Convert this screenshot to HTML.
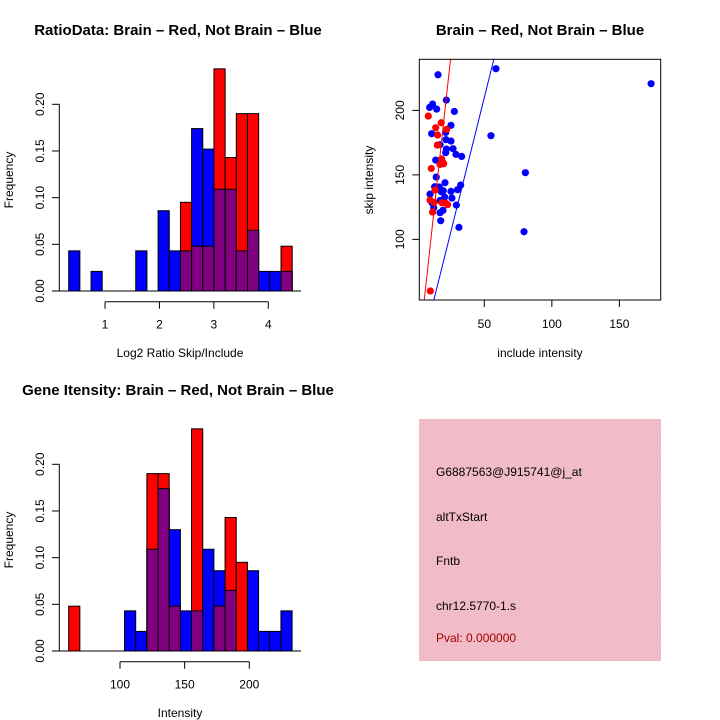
<!DOCTYPE html>
<html><head><meta charset="utf-8"><style>
body{margin:0;background:#fff}
svg{display:block;font-family:"Liberation Sans",sans-serif}
</style></head><body>
<svg id="c" width="720" height="720" xmlns="http://www.w3.org/2000/svg">
<defs><pattern id="hatch" width="3" height="3" patternUnits="userSpaceOnUse"><rect width="3" height="3" fill="#f2bcc8"/><rect width="1" height="1" fill="#e8b0c0"/></pattern></defs>
<g id="g1"></g>
<g id="g2"></g>
<g id="g3"></g>
<g>
<rect x="419" y="419" width="242" height="242" fill="url(#hatch)"/>
<text x="436" y="476" font-size="12">G6887563@J915741@j_at</text>
<text x="436" y="521" font-size="12">altTxStart</text>
<text x="436" y="565" font-size="12">Fntb</text>
<text x="436" y="610" font-size="12">chr12.5770-1.s</text>
<text x="436" y="642" font-size="12" fill="#a00000">Pval: 0.000000</text>
</g>
</svg>
<script>
// Ratio histogram data (20 bins)
const ratioBlue=[.043,0,.021,0,0,0,.043,0,.086,.043,.043,.174,.152,.109,.109,.043,.065,.021,.021,.021];
const ratioRed=[0,0,0,0,0,0,0,0,0,0,.095,.048,.048,.238,.143,.190,.190,0,0,.048];
const ratioStart=0.333, ratioWidth=0.2053;
const ratioTicks=[1,2,3,4];
// Intensity histogram data
const intBlue=[0,0,0,0,0,.043,.021,.109,.174,.130,.043,.043,.109,.086,.065,0,.086,.021,.021,.043];
const intRed=[.048,0,0,0,0,0,0,.190,.190,.048,0,.238,0,.048,.143,.095,0,0,0,0];
const intStart=60.3, intWidth=8.64;
const intTicks=[100,150,200];
const freqTicks=[0,0.05,0.10,0.15,0.20];
const freqLabels=["0.00","0.05","0.10","0.15","0.20"];
// Scatter data
const blueX=[15.7,9.5,11.7,14.7,21.9,27.8,11.0,21.4,25.3,21.6,25.3,17.2,21.9,26.8,21.4,29.0,33.2,14.0,19.1,14.4,20.9,13.2,16.7,18.1,19.6,25.3,9.8,20.6,26.0,17.2,11.2,19.1,12.5,29.3,30.2,32.5,17.2,19.4,17.7,31.2,58.6,54.9,80.4,79.4,173.5,18.9];
const blueY=[227.6,202.3,204.9,201.0,208.0,199.2,181.9,182.9,188.4,177.3,176.2,173.4,170.0,170.3,167.2,165.9,164.3,161.5,159.9,148.3,143.9,140.8,140.6,137.0,137.7,137.2,135.1,132.8,132.0,130.2,128.4,129.5,124.5,126.6,138.5,142.1,120.7,122.5,114.5,109.3,232.3,180.4,151.7,105.9,220.7,159.4];
const redX=[8.5,18.1,14.0,15.4,22.1,15.2,18.4,17.2,19.9,10.7,13.5,9.8,12.7,18.6,22.8,11.7,10.0,21.6];
const redY=[195.6,190.4,186.6,180.9,185.3,173.1,162.3,158.1,158.7,155.0,138.2,130.5,128.7,128.4,126.9,121.2,60.0,127.9];
const redSlope=9.6, blueSlope=4.2;
const scatterXTicks=[50,100,150], scatterYTicks=[100,150,200];

const NS="http://www.w3.org/2000/svg";
function mk(p,t,a){const e=document.createElementNS(NS,t);for(const k in a)e.setAttribute(k,a[k]);p.appendChild(e);return e;}

function hist(g,oy,blue,red,start,width,sx,ticks,xlab,title){
  const sy=v=>oy+291-v*(186.7/0.2);
  const t=mk(g,'text',{x:178,y:oy+35,'font-size':15,'font-weight':'bold','text-anchor':'middle'});t.textContent=title;
  
  
  for(let i=0;i<blue.length;i++){
    const x0=sx(start+i*width),x1=sx(start+(i+1)*width);
    const draw=(v,c,name)=>{if(v<=0)return;const r=mk(g,'rect',{x:x0,y:sy(v),width:x1-x0,height:sy(0)-sy(v),fill:c,stroke:'#000','stroke-width':1});
      
      };
    draw(blue[i],'#0000ff','bar-blue');
    draw(red[i],'#ff0000','bar-red');
    draw(Math.min(blue[i],red[i]),'#800080','bar-overlap');
  }
  const b=mk(g,'line',{x1:52,x2:301,y1:sy(0),y2:sy(0),stroke:'#000'});
  
  
  const ya=mk(g,'line',{x1:59.3,x2:59.3,y1:sy(0),y2:sy(0.2),stroke:'#000'});
  
  
  freqTicks.forEach((v,i)=>{mk(g,'line',{x1:52,x2:59.3,y1:sy(v),y2:sy(v),stroke:'#000'});
    const tx=mk(g,'text',{x:0,y:0,'font-size':12,'text-anchor':'middle',transform:`translate(44,${sy(v)}) rotate(-90)`});tx.textContent=freqLabels[i];
    
    });
  const ay=oy+301.7;
  const xa=mk(g,'line',{x1:sx(ticks[0]),x2:sx(ticks[ticks.length-1]),y1:ay,y2:ay,stroke:'#000'});
  
  
  ticks.forEach(v=>{mk(g,'line',{x1:sx(v),x2:sx(v),y1:ay,y2:ay+7,stroke:'#000'});
    const tx=mk(g,'text',{x:sx(v),y:ay+27,'font-size':12,'text-anchor':'middle'});tx.textContent=v;
    
    });
  const xl=mk(g,'text',{x:180,y:oy+357,'font-size':12,'text-anchor':'middle'});xl.textContent=xlab;
  
  
  const yl=mk(g,'text',{x:0,y:0,'font-size':12,'text-anchor':'middle',transform:`translate(13,${oy+180}) rotate(-90)`});yl.textContent='Frequency';
  
  
}
hist(document.getElementById('g1'),0,ratioBlue,ratioRed,ratioStart,ratioWidth,v=>105+(v-1)*54.43,ratioTicks,'Log2 Ratio Skip/Include','RatioData: Brain \u2013 Red, Not Brain \u2013 Blue');
hist(document.getElementById('g3'),360,intBlue,intRed,intStart,intWidth,v=>120+(v-100)*1.293,intTicks,'Intensity','Gene Itensity: Brain \u2013 Red, Not Brain \u2013 Blue');

// scatter
(function(){
  const g=document.getElementById('g2');
  const L=419.3,R=660.7,T=59.3,B=300;
  const xmin=1.85,xmax=180.6,ymin=53.0,ymax=239.6;
  const sx=v=>L+(v-xmin)/(xmax-xmin)*(R-L), sy=v=>B-(v-ymin)/(ymax-ymin)*(B-T);
  mk(g,'clipPath',{id:'sc'}).appendChild(document.createElementNS(NS,'rect'));
  const cr=g.querySelector('#sc rect');cr.setAttribute('x',L);cr.setAttribute('y',T);cr.setAttribute('width',R-L);cr.setAttribute('height',B-T);
  const t=mk(g,'text',{x:540,y:35,'font-size':15,'font-weight':'bold','text-anchor':'middle'});t.textContent='Brain \u2013 Red, Not Brain \u2013 Blue';
  
  
  blueX.forEach((x,i)=>{const c=mk(g,'circle',{cx:sx(x),cy:sy(blueY[i]),r:3.6,fill:'#0000ff'});
    
    });
  redX.forEach((x,i)=>{const c=mk(g,'circle',{cx:sx(x),cy:sy(redY[i]),r:3.6,fill:'#ff0000'});
    
    });
  [[redSlope,'#ff0000','fit-line-brain'],[blueSlope,'#0000ff','fit-line-not-brain']].forEach(([s,c,n])=>{
    const l=mk(g,'line',{x1:sx(0),y1:sy(0),x2:sx(300),y2:sy(300*s),stroke:c,'stroke-width':1,'clip-path':'url(#sc)'});
    
    });
  const box=mk(g,'rect',{x:L,y:T,width:R-L,height:B-T,fill:'none',stroke:'#000'});
  
  
  scatterXTicks.forEach(v=>{mk(g,'line',{x1:sx(v),x2:sx(v),y1:B,y2:B+7,stroke:'#000'});
    const tx=mk(g,'text',{x:sx(v),y:B+28,'font-size':12,'text-anchor':'middle'});tx.textContent=v;
    
    });
  scatterYTicks.forEach(v=>{mk(g,'line',{x1:L-7,x2:L,y1:sy(v),y2:sy(v),stroke:'#000'});
    const tx=mk(g,'text',{x:0,y:0,'font-size':12,'text-anchor':'middle',transform:`translate(404,${sy(v)}) rotate(-90)`});tx.textContent=v;
    
    });
  const xl=mk(g,'text',{x:540,y:357,'font-size':12,'text-anchor':'middle'});xl.textContent='include intensity';
  
  
  const yl=mk(g,'text',{x:0,y:0,'font-size':12,'text-anchor':'middle',transform:'translate(373,180) rotate(-90)'});yl.textContent='skip intensity';
  
  
})();
</script>
</body></html>
